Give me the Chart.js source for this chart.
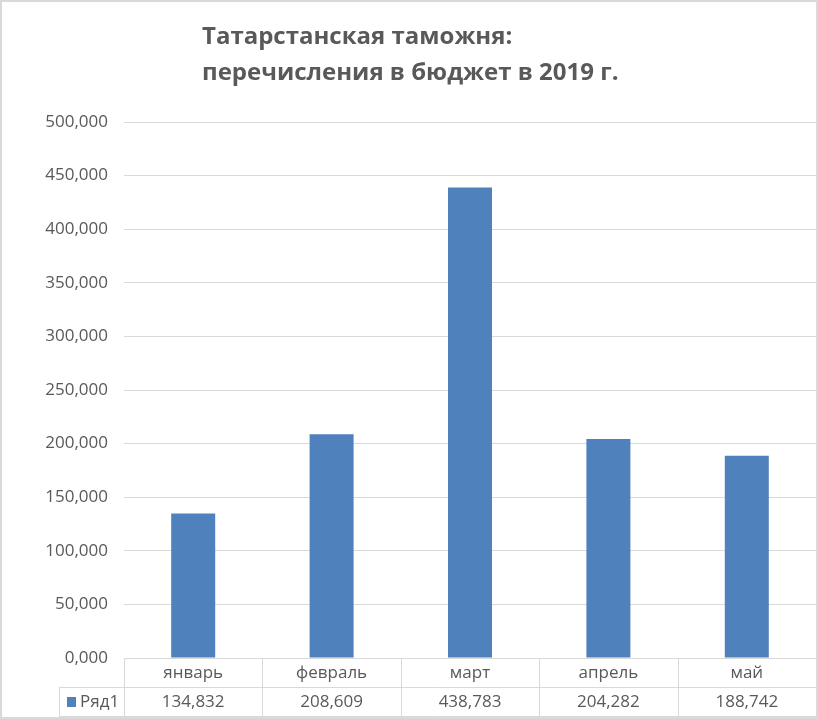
<!DOCTYPE html>
<html>
<head>
<meta charset="utf-8">
<script src="https://cdn.jsdelivr.net/npm/chart.js@4/dist/chart.umd.min.js"></script>
<style>
  html, body { margin: 0; padding: 0; background: #fff; }
  #wrap { width: 818px; height: 719px; position: relative; }
</style>
</head>
<body>
<div id="wrap"><canvas id="c" width="818" height="719"></canvas></div>
<script>
// Monthly transfers to the budget
const titleLines = ['Татарстанская таможня:', 'перечисления в бюджет в 2019 г.'];
const months = ['январь', 'февраль', 'март', 'апрель', 'май'];
const seriesName = 'Ряд1';
const values = [134.832, 208.609, 438.783, 204.282, 188.742];
const yMin = 0;
const yMax = 500;
const yStep = 50;

const FONT = '"Open Sans", "Noto Sans", sans-serif';
const TEXT = '#595959';
const LINE = '#d9d9d9';
const BAR = '#4f81bd';

const fmt = v => v.toFixed(3).replace('.', ',');

// Title, data table under the axis and outer frame
const decor = {
  id: 'decor',
  afterDraw(chart) {
    const ctx = chart.ctx;
    const x = chart.scales.x;
    const area = chart.chartArea;
    const half = (x.getPixelForValue(1) - x.getPixelForValue(0)) / 2;
    const top = area.bottom;
    const mid = top + 29;
    const bot = top + 58;
    const legendLeft = 59;

    ctx.save();
    // title
    ctx.fillStyle = TEXT;
    ctx.font = 'bold 24px ' + FONT;
    ctx.textAlign = 'left';
    ctx.textBaseline = 'alphabetic';
    ctx.fillText(titleLines[0], 202, 44);
    ctx.fillText(titleLines[1], 202, 80);

    // table grid
    ctx.strokeStyle = LINE;
    ctx.lineWidth = 1;
    ctx.beginPath();
    ctx.moveTo(area.left, top + 0.5); ctx.lineTo(area.right, top + 0.5);
    ctx.moveTo(legendLeft, mid + 0.5); ctx.lineTo(area.right, mid + 0.5);
    ctx.moveTo(legendLeft, bot + 0.5); ctx.lineTo(area.right, bot + 0.5);
    ctx.moveTo(legendLeft + 0.5, mid); ctx.lineTo(legendLeft + 0.5, bot);
    months.forEach((m, i) => {
      const l = Math.round(x.getPixelForValue(i) - half) + 0.5;
      ctx.moveTo(l, top); ctx.lineTo(l, bot);
    });
    ctx.stroke();

    // table text
    ctx.font = '17px ' + FONT;
    ctx.textAlign = 'center';
    ctx.textBaseline = 'middle';
    ctx.fillStyle = TEXT;
    months.forEach((m, i) => {
      const cx = x.getPixelForValue(i);
      ctx.fillText(m, cx, top + 15);
      ctx.fillText(fmt(values[i]), cx, mid + 15);
    });

    // series key
    ctx.fillStyle = BAR;
    ctx.fillRect(67, mid + 10, 9, 10);
    ctx.fillStyle = TEXT;
    ctx.textAlign = 'left';
    ctx.fillText(seriesName, 80, mid + 15);

    // outer frame
    ctx.strokeStyle = LINE;
    ctx.lineWidth = 2;
    ctx.strokeRect(1, 1, chart.width - 2, chart.height - 2);
    ctx.restore();
  }
};

new Chart(document.getElementById('c'), {
  type: 'bar',
  data: {
    labels: months,
    datasets: [{
      label: seriesName,
      data: values,
      backgroundColor: BAR,
      borderWidth: 0,
      categoryPercentage: 1,
      barPercentage: 0.318
    }]
  },
  options: {
    responsive: false,
    animation: false,
    layout: { padding: { top: 122, right: 2, bottom: 61, left: 0 } },
    plugins: {
      legend: { display: false },
      title: { display: false },
      tooltip: { enabled: false }
    },
    scales: {
      x: {
        display: false
      },
      y: {
        min: yMin,
        max: yMax,
        afterFit(scale) { scale.width = 124; },
        ticks: {
          stepSize: yStep,
          padding: 16,
          color: TEXT,
          font: { family: FONT, size: 17 },
          callback: v => fmt(v)
        },
        grid: { color: LINE, lineWidth: 1, drawTicks: false },
        border: { display: false }
      }
    }
  },
  plugins: [decor]
});
</script>
</body>
</html>
